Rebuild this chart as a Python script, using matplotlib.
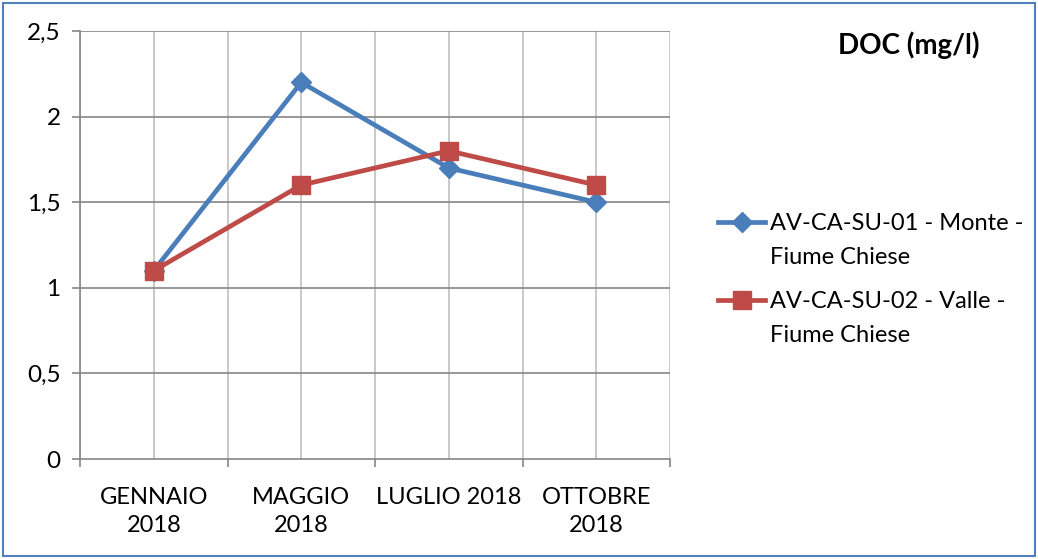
import matplotlib.pyplot as plt
from matplotlib.patches import Rectangle

plt.rcParams['font.family'] = ['Lato', 'DejaVu Sans']

categories = ["GENNAIO\n2018", "MAGGIO\n2018", "LUGLIO 2018", "OTTOBRE\n2018"]
monte = [1.1, 2.2, 1.7, 1.5]
valle = [1.1, 1.6, 1.8, 1.6]
labels = ["AV-CA-SU-01 - Monte -", "AV-CA-SU-02 - Valle -"]
label_tail = "Fiume Chiese"
yticks = [0, 0.5, 1, 1.5, 2, 2.5]
ytick_labels = ["0", "0,5", "1", "1,5", "2", "2,5"]

W, H = 1038, 559
fig = plt.figure(figsize=(W / 100, H / 100), dpi=100)
ax = fig.add_axes([80 / W, 1 - 459 / H, 590 / W, 428 / H])

x = list(range(len(categories)))
ax.plot(x, monte, color='#4a7ebb', lw=3.4, marker='D', ms=10, label=labels[0], zorder=3)
ax.plot(x, valle, color='#be4b48', lw=3.4, marker='s', ms=12.5, label=labels[1], zorder=3)

ax.set_xlim(-0.5, 3.5)
ax.set_ylim(0, 2.5)
ax.set_yticks(yticks)
ax.set_yticklabels(ytick_labels, fontsize=17.5)

# gridlines at both category centers and boundaries
for gx in [-0.5, 0, 0.5, 1, 1.5, 2, 2.5, 3, 3.5]:
    ax.axvline(gx, color='#bfbfbf', lw=1.2, zorder=1)
for gy in yticks[1:]:
    ax.axhline(gy, color='#868686', lw=1.2, zorder=1)

ax.set_xticks([-0.5, 0.5, 1.5, 2.5, 3.5])
ax.set_xticklabels([])
ax.set_xticks(x, minor=True)
ax.set_xticklabels(categories, minor=True, fontsize=17)
ax.tick_params(axis='x', which='minor', length=0, pad=20)
ax.tick_params(axis='x', which='major', length=6, color='#868686', width=1.2)
ax.tick_params(axis='y', length=6, color='#868686', width=1.2, pad=8)
for lbl in ax.get_xticklabels(minor=True):
    lbl.set_linespacing(1.45)

for side in ['top', 'right']:
    ax.spines[side].set_visible(False)
ax.spines['left'].set_color('#868686')
ax.spines['bottom'].set_color('#868686')
ax.spines['left'].set_linewidth(1.2)
ax.spines['bottom'].set_linewidth(1.2)

fig.text(909 / W, 1 - 45 / H, "DOC (mg/l)", fontsize=20, fontweight='bold',
         ha='center', va='center')

leg = fig.legend(loc='upper left', bbox_to_anchor=(718 / W, 1 - 213 / H), frameon=False,
                 fontsize=17, handlelength=2.0, handletextpad=0.2, labelspacing=2.42,
                 borderpad=0, borderaxespad=0)

# second line of each legend label, placed under the first line
fig.canvas.draw()
for t in leg.get_texts():
    bb = t.get_window_extent()
    yc = (bb.y0 + bb.y1) / 2 - 34
    fig.text(bb.x0 / W, yc / H, label_tail, fontsize=17, ha='left', va='center')

fig.patches.append(Rectangle((3 / W, 3 / H), 1032 / W, 553 / H,
                             transform=fig.transFigure, fill=False,
                             edgecolor='#4f81bd', lw=1.5))

fig.savefig("out.png", dpi=100)
